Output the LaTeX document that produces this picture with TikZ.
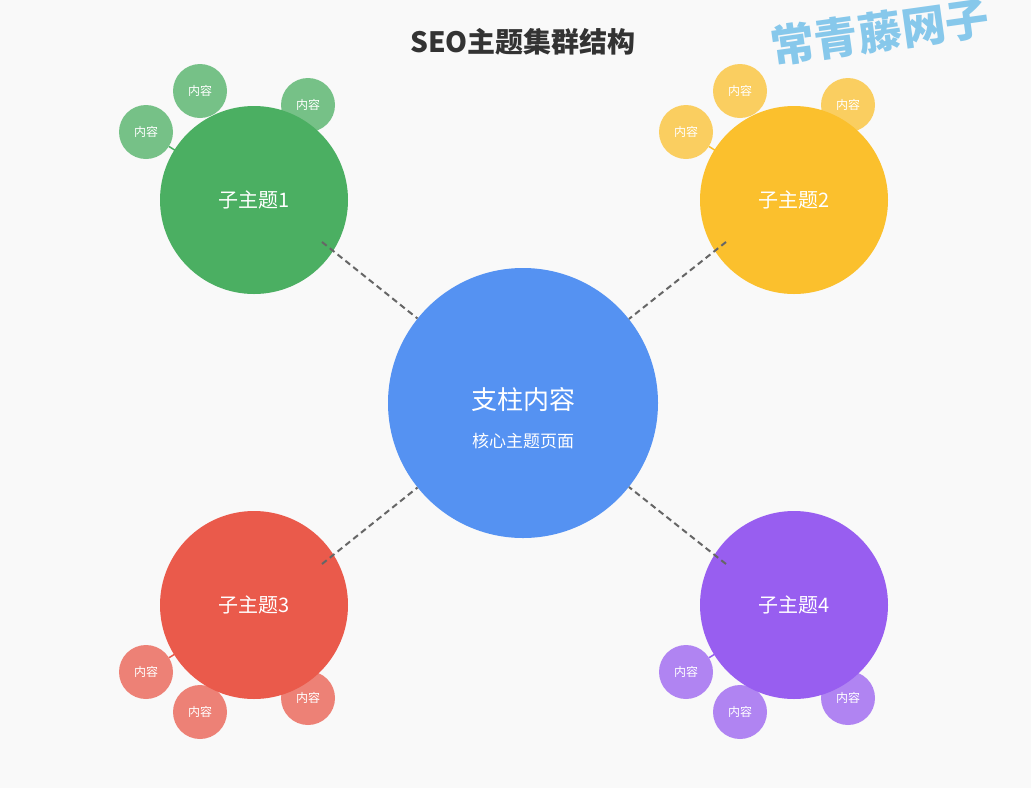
\documentclass[tikz,border=0pt]{standalone}
\usepackage{fontspec}
\setmainfont{Noto Sans CJK SC}
\begin{document}
\begin{tikzpicture}[x=1pt,y=-1pt,
 big/.style={circle,minimum size=188pt,inner sep=0pt,text=white,font=\fontsize{20}{24}\selectfont},
 sm/.style={circle,minimum size=54pt,inner sep=0pt,text=white,fill opacity=0.75,text opacity=1,font=\fontsize{12}{14}\selectfont},
 dl/.style={draw=black!60,dash pattern=on 6pt off 4pt,line width=2pt}]
\definecolor{cg}{HTML}{4BAF62}\definecolor{cy}{HTML}{FBC02D}
\definecolor{cr}{HTML}{EA5A4B}\definecolor{cp}{HTML}{985EF0}
\definecolor{cb}{HTML}{5592F2}
\fill[fill={rgb,255:red,249;green,249;blue,249}] (0,0) rectangle (1031,788);
\useasboundingbox (0,0) rectangle (1031,788);
\node[font=\bfseries\fontsize{28}{32}\selectfont,text=black!80] (t) at (523,42) {SEO主题集群结构};
\node[rotate=8,text={rgb,255:red,135;green,200;blue,235},font=\bfseries\fontsize{44}{48}\selectfont] (w) at (880,32) {常青藤网子};
\foreach \c/\bx/\by/\ax/\ay/\bbx/\bby/\cx/\cy in {cg/254/200/146/132/200/91/308/105, cy/794/200/686/132/740/91/848/105, cr/254/605/146/672/200/712/308/698, cp/794/605/686/672/740/712/848/698}{
 \node[sm,fill=\c] (s1) at (\ax,\ay) {内容};
 \node[sm,fill=\c] (s2) at (\bbx,\bby) {内容};
 \node[sm,fill=\c] (s3) at (\cx,\cy) {内容};
 \draw[\c,line width=1.5pt] (s1) -- (\bx,\by);
}
\node[big,fill=cg] (a) at (254,200) {子主题1};
\node[big,fill=cy] (b) at (794,200) {子主题2};
\node[big,fill=cr] (c) at (254,605) {子主题3};
\node[big,fill=cp] (d) at (794,605) {子主题4};
\node[circle,minimum size=270pt,inner sep=0pt,fill=cb,text=white] (m) at (523,403) {};
\node[text=white,font=\fontsize{26}{30}\selectfont] (mt) at (523,400) {支柱内容};
\node[text=white,font=\fontsize{17}{20}\selectfont] (ms) at (523,441) {核心主题页面};
\coordinate (p1) at (322,242);\coordinate (p2) at (726,242);
\coordinate (p3) at (322,564);\coordinate (p4) at (726,564);
\draw[dl] (p1) -- (m);\draw[dl] (p2) -- (m);
\draw[dl] (p3) -- (m);\draw[dl] (p4) -- (m);
\end{tikzpicture}
\end{document}
